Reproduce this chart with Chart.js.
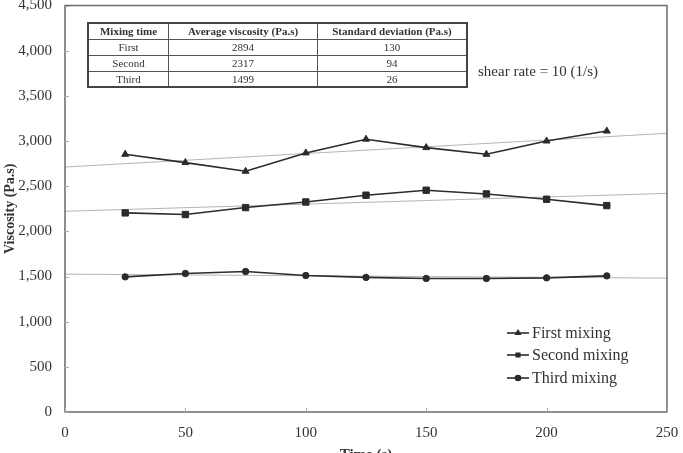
<!DOCTYPE html>
<html>
<head>
    <meta charset="UTF-8">
    <title>Viscosity vs Time</title>
    <style>
        body {
            margin: 0;
            background: #fff;
            font-family: "Liberation Serif", "Times New Roman", serif;
        }
        #wrap {
            position: relative;
            width: 683px;
            height: 453px;
            overflow: hidden;
        }
        #infoTable {
            position: absolute;
            left: 87px;
            top: 22px;
            width: 381px;
            border-collapse: collapse;
            border: 2px solid #444;
            font-size: 11px;
            color: #333;
            text-align: center;
        }
        #infoTable tr {
            height: 16px;
        }
        #infoTable th, #infoTable td {
            border: 1px solid #555;
            padding: 0;
            line-height: 14px;
        }
        #infoTable th {
            font-weight: bold;
        }
        #shearNote {
            position: absolute;
            left: 478px;
            top: 63px;
            font-size: 15px;
            color: #333;
        }
    </style>
</head>
<body>
<div id="wrap">
    <canvas id="viscChart" width="683" height="453"></canvas>
    <table id="infoTable">
        <thead><tr id="tableHead"></tr></thead>
        <tbody id="tableBody"></tbody>
    </table>
    <div id="shearNote">shear rate = 10 (1/s)</div>
</div>

<script src="https://cdn.jsdelivr.net/npm/chart.js"></script>
<script>
    // data
    const times = [25, 50, 75, 100, 125, 150, 175, 200, 225];
    const firstMixing = [2853, 2761, 2665, 2868, 3020, 2927, 2853, 3000, 3110];
    const secondMixing = [2204, 2186, 2263, 2325, 2400, 2455, 2414, 2355, 2285];
    const thirdMixing = [1496, 1533, 1555, 1511, 1490, 1478, 1478, 1485, 1507];

    // linear trendline end points (x = 0 and x = 250)
    const trendX = [0, 250];
    const firstTrend = [2712, 3085];
    const secondTrend = [2222, 2420];
    const thirdTrend = [1526, 1482];

    const tableHeaders = ['Mixing time', 'Average viscosity (Pa.s)', 'Standard deviation (Pa.s)'];
    const tableMixing = ['First', 'Second', 'Third'];
    const tableAverage = [2894, 2317, 1499];
    const tableStdDev = [130, 94, 26];

    // fill the summary table
    const head = document.getElementById('tableHead');
    tableHeaders.forEach((h, i) => {
        const th = document.createElement('th');
        th.textContent = h;
        th.style.width = i === 0 ? '80px' : '150px';
        head.appendChild(th);
    });
    const body = document.getElementById('tableBody');
    tableMixing.forEach((m, i) => {
        const tr = document.createElement('tr');
        [m, tableAverage[i], tableStdDev[i]].forEach(v => {
            const td = document.createElement('td');
            td.textContent = v;
            tr.appendChild(td);
        });
        body.appendChild(tr);
    });

    function pairs(xs, ys) {
        return xs.map((x, i) => ({ x: x, y: ys[i] }));
    }

    const lineColor = '#2b2b2b';
    const trendColor = '#b5b5b5';
    const serif = '"Liberation Serif", "Times New Roman", serif';
    const markerSize = { triangle: 4, rect: 4.5, circle: 3.2 };

    function seriesSet(label, values, style) {
        return {
            label: label,
            data: pairs(times, values),
            borderColor: lineColor,
            backgroundColor: lineColor,
            borderWidth: 1.6,
            pointStyle: style,
            pointRadius: markerSize[style],
            pointBorderWidth: 1,
            tension: 0,
            order: 1
        };
    }

    function trendSet(values) {
        return {
            label: '',
            isTrend: true,
            data: pairs(trendX, values),
            borderColor: trendColor,
            borderWidth: 1,
            pointRadius: 0,
            tension: 0,
            order: 2
        };
    }

    // box + inward tick marks
    const frameAndTicks = {
        id: 'frameAndTicks',
        afterDraw(chart) {
            const c = chart.ctx;
            const a = chart.chartArea;
            c.save();
            c.strokeStyle = '#6a6a6a';
            c.lineWidth = 1.5;
            c.strokeRect(a.left, a.top, a.right - a.left, a.bottom - a.top);
            c.strokeStyle = '#aaa';
            c.lineWidth = 1;
            const xs = chart.scales.x, ys = chart.scales.y;
            xs.ticks.forEach(t => {
                const px = Math.round(xs.getPixelForValue(t.value)) + 0.5;
                c.beginPath();
                c.moveTo(px, a.bottom);
                c.lineTo(px, a.bottom - 4);
                c.stroke();
            });
            ys.ticks.forEach(t => {
                const py = Math.round(ys.getPixelForValue(t.value)) + 0.5;
                c.beginPath();
                c.moveTo(a.left, py);
                c.lineTo(a.left + 4, py);
                c.stroke();
            });
            c.restore();
        }
    };

    // legend inside the plot, lower right
    const innerLegend = {
        id: 'innerLegend',
        afterDraw(chart) {
            const c = chart.ctx;
            const sets = chart.data.datasets.filter(d => !d.isTrend);
            const lx0 = 507, lx1 = 529, tx = 532;
            const rows = [333, 355, 378];
            c.save();
            c.font = '16px ' + serif;
            c.textBaseline = 'middle';
            sets.forEach((d, i) => {
                const y = rows[i];
                c.strokeStyle = lineColor;
                c.fillStyle = lineColor;
                c.lineWidth = 1.6;
                c.beginPath();
                c.moveTo(lx0, y);
                c.lineTo(lx1, y);
                c.stroke();
                Chart.helpers.drawPoint(c, {
                    pointStyle: d.pointStyle,
                    radius: 2.5,
                    borderWidth: 1
                }, (lx0 + lx1) / 2, y);
                c.fillStyle = '#333';
                c.fillText(d.label, tx, y + 1);
            });
            c.restore();
        }
    };

    Chart.defaults.font.family = serif;
    Chart.defaults.color = '#333';

    const ctx = document.getElementById('viscChart').getContext('2d');

    const viscChart = new Chart(ctx, {
        type: 'line',
        data: {
            datasets: [
                seriesSet('First mixing', firstMixing, 'triangle'),
                seriesSet('Second mixing', secondMixing, 'rect'),
                seriesSet('Third mixing', thirdMixing, 'circle'),
                trendSet(firstTrend),
                trendSet(secondTrend),
                trendSet(thirdTrend)
            ]
        },
        options: {
            responsive: false,
            animation: false,
            layout: {
                padding: { top: 5, right: 16, left: 0, bottom: 0 }
            },
            plugins: {
                legend: { display: false },
                tooltip: { enabled: false }
            },
            scales: {
                x: {
                    type: 'linear',
                    min: 0,
                    max: 250,
                    ticks: {
                        stepSize: 50,
                        padding: 12,
                        font: { size: 15 },
                        color: '#333'
                    },
                    grid: { display: false, drawTicks: false },
                    border: { display: false },
                    title: {
                        display: true,
                        text: 'Time (s)',
                        font: { size: 15, weight: 'bold' },
                        padding: { top: 0, bottom: -11 }
                    },
                    afterFit(scale) {
                        scale.height = 41;
                        scale.paddingLeft = 0;
                        scale.paddingRight = 0;
                    }
                },
                y: {
                    min: 0,
                    max: 4500,
                    ticks: {
                        stepSize: 500,
                        padding: 13,
                        font: { size: 15 },
                        color: '#333',
                        callback: v => v.toLocaleString('en-US')
                    },
                    grid: { display: false, drawTicks: false },
                    border: { display: false },
                    title: {
                        display: true,
                        text: 'Viscosity (Pa.s)',
                        font: { size: 14, weight: 'bold' },
                        padding: { top: 2, bottom: 0 }
                    },
                    afterFit(scale) {
                        scale.width = 65;
                        scale.paddingTop = 0;
                        scale.paddingBottom = 0;
                    }
                }
            }
        },
        plugins: [frameAndTicks, innerLegend]
    });
</script>
</body>
</html>
